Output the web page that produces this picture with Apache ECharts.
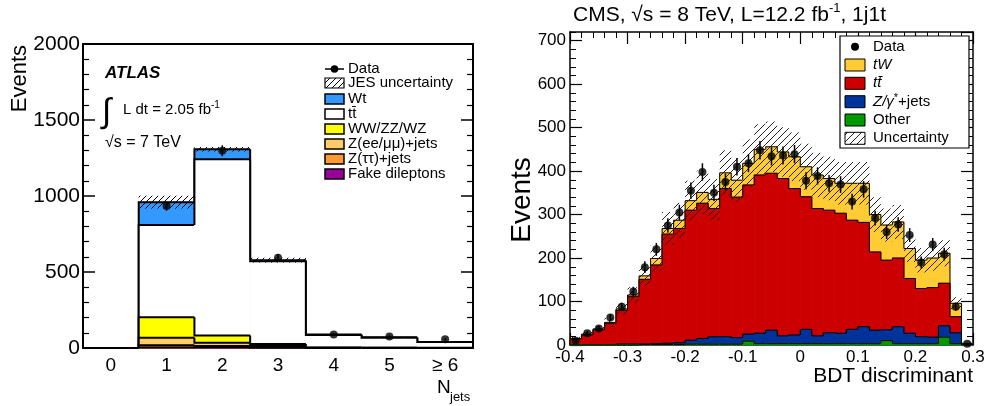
<!DOCTYPE html>
<html>
<head>
<meta charset="utf-8">
<script src="https://cdn.jsdelivr.net/npm/echarts@6/dist/echarts.min.js"></script>
<style>
  html, body { margin: 0; padding: 0; background: #fff; }
  #chart { width: 988px; height: 406px; }
</style>
</head>
<body>
<div id="chart"></div>
<script>
// ---------- ATLAS: dilepton events vs. jet multiplicity ----------
const njetLabels   = ['0', '1', '2', '3', '4', '5', '\u2265 6'];
const atlasFake    = [0, 4, 3, 2, 0, 0, 0];
const atlasZtautau = [0, 14, 10, 4, 0, 0, 0];
const atlasZeemumu = [0, 50, 22, 8, 1, 1, 0];
const atlasDiboson = [0, 134, 48, 12, 2, 1, 1];
const atlasTtbar   = [0, 607, 1158, 545, 82, 66, 38];
const atlasWt      = [0, 150, 66, 7, 3, 2, 1];
const atlasData    = [null, 934, 1298, 594, 88, 75, 57];
const atlasJes     = [0, 42, 15, 15, 4, 4, 3];

// ---------- CMS: BDT discriminant, 1j1t region ----------
const bdtLow = -0.4;
const bdtBinWidth = 0.02;
const bdtOther = [0,0,0,0,0,0,1,1,1,1,2,2,2,2,2,9,3,3,3,3,3,3,3,3,3,3,3,10,3,3,3,3,18,3,1];
const bdtZjets = [1,1,1,1,2,2,1,2,3,4,9,13,17,17,15,16,24,31,18,20,33,18,25,24,33,39,31,25,39,24,16,15,26,25,1];
const bdtTtbar = [13,22,34,49,78,109,149,181,251,263,299,311,295,341,323,343,364,361,362,337,305,293,282,276,251,240,180,160,158,126,111,114,98,37,1];
const bdtTW    = [1,2,2,2,3,4,8,15,13,19,22,25,21,36,39,50,59,61,61,73,69,77,73,69,85,90,86,81,83,69,65,68,69,31,1];
const bdtData  = [10,27,38,63,88,123,179,220,275,305,355,398,350,375,410,418,448,434,436,439,378,389,372,369,330,358,292,260,277,253,190,231,209,88,3];
const bdtUnc   = [4,5,7,10,14,18,24,30,38,40,46,50,47,52,50,55,58,58,57,56,53,51,50,49,49,49,40,38,39,31,28,29,30,14,2];

const FONT = 'Liberation Sans, Arial, Helvetica, sans-serif';

// running sums, bottom layer first
function cumulate(layers) {
  let run = layers[0].map(() => 0);
  return layers.map(arr => { run = run.map((v, i) => v + arr[i]); return run.slice(); });
}

// diagonal "////" hatch tile
function hatchTile(step, color, width) {
  const c = document.createElement('canvas');
  c.width = step; c.height = step;
  const g = c.getContext('2d');
  g.strokeStyle = color; g.lineWidth = width;
  g.beginPath();
  g.moveTo(-1, step + 1); g.lineTo(step + 1, -1);
  g.moveTo(-2, 2); g.lineTo(2, -2);
  g.moveTo(step - 2, step + 2); g.lineTo(step + 2, step - 2);
  g.stroke();
  return c;
}

// filled step histogram from 0 to tops, with a black step outline
function histLayer(xi, yi, lows, highs, tops, color, lw) {
  const n = tops.length;
  const data = tops.map((t, i) => [lows[i], highs[i], t, i > 0 ? tops[i - 1] : 0, i === n - 1 ? 1 : 0]);
  return {
    type: 'custom', xAxisIndex: xi, yAxisIndex: yi, silent: true, data,
    renderItem(params, api) {
      const x0 = api.value(0), x1 = api.value(1), top = api.value(2), prev = api.value(3), last = api.value(4);
      const a = api.coord([x0, top]), b = api.coord([x1, 0]), p = api.coord([x0, prev]);
      const pts = [[a[0], p[1]], [a[0], a[1]], [b[0], a[1]]];
      if (last) pts.push([b[0], b[1]]);
      return { type: 'group', children: [
        { type: 'rect', shape: { x: a[0], y: a[1], width: b[0] - a[0], height: b[1] - a[1] },
          style: { fill: color, stroke: color, lineWidth: 0.8 } },
        { type: 'polyline', shape: { points: pts }, style: { stroke: '#000', lineWidth: lw, fill: null } }
      ] };
    }
  };
}

// hatched uncertainty band around the stack total
function bandLayer(xi, yi, lows, highs, total, half, tile) {
  const data = [];
  total.forEach((t, i) => { if (half[i] > 0) data.push([lows[i], highs[i], t - half[i], t + half[i]]); });
  return {
    type: 'custom', xAxisIndex: xi, yAxisIndex: yi, silent: true, data,
    renderItem(params, api) {
      const a = api.coord([api.value(0), api.value(3)]), b = api.coord([api.value(1), api.value(2)]);
      return { type: 'rect', shape: { x: a[0], y: a[1], width: b[0] - a[0], height: b[1] - a[1] },
               style: { fill: { image: tile, repeat: 'repeat' } } };
    }
  };
}

// data points with Poisson error bars
function dataLayers(xi, yi, centers, vals, size, lw) {
  const pts = [], bars = [];
  vals.forEach((v, i) => {
    if (v == null) return;
    pts.push([centers[i], v]);
    bars.push([centers[i], v - Math.sqrt(v), v + Math.sqrt(v)]);
  });
  return [
    { type: 'custom', xAxisIndex: xi, yAxisIndex: yi, silent: true, data: bars,
      renderItem(params, api) {
        const a = api.coord([api.value(0), api.value(1)]), b = api.coord([api.value(0), api.value(2)]);
        return { type: 'line', shape: { x1: a[0], y1: a[1], x2: b[0], y2: b[1] }, style: { stroke: '#000', lineWidth: lw } };
      } },
    { type: 'scatter', xAxisIndex: xi, yAxisIndex: yi, silent: true, data: pts,
      symbol: 'circle', symbolSize: size, itemStyle: { color: '#000' } }
  ];
}

// ---- left panel geometry in bin units ----
const atlasLows = njetLabels.map((_, i) => i - 0.5);
const atlasHighs = njetLabels.map((_, i) => i + 0.5);
const atlasCenters = njetLabels.map((_, i) => i);
const atlasCum = cumulate([atlasFake, atlasZtautau, atlasZeemumu, atlasDiboson, atlasTtbar, atlasWt]);
const atlasColors = ['#bb00bb', '#ff9933', '#ffcc66', '#ffff00', '#ffffff', '#3399ff'];

// ---- right panel geometry ----
const bdtLows = bdtData.map((_, i) => bdtLow + i * bdtBinWidth);
const bdtHighs = bdtData.map((_, i) => bdtLow + (i + 1) * bdtBinWidth);
const bdtCenters = bdtData.map((_, i) => bdtLow + (i + 0.5) * bdtBinWidth);
const bdtCum = cumulate([bdtOther, bdtZjets, bdtTtbar, bdtTW]);
const bdtColors = ['#009900', '#003399', '#cc0000', '#ffcc33'];

const jesTile = hatchTile(6, '#000', 1);
const uncTile = hatchTile(7, '#222', 1);

const series = [];
// draw the total first, then each lower layer on top of it
for (let k = atlasCum.length - 1; k >= 0; k--) series.push(histLayer(2, 0, atlasLows, atlasHighs, atlasCum[k], atlasColors[k], 2));
series.push(bandLayer(2, 0, atlasLows, atlasHighs, atlasCum[atlasCum.length - 1], atlasJes, jesTile));
series.push(...dataLayers(2, 0, atlasCenters, atlasData, 8, 1.5));

for (let k = bdtCum.length - 1; k >= 0; k--) series.push(histLayer(3, 2, bdtLows, bdtHighs, bdtCum[k], bdtColors[k], 1));
series.push(bandLayer(3, 2, bdtLows, bdtHighs, bdtCum[bdtCum.length - 1], bdtUnc, uncTile));
series.push(...dataLayers(3, 2, bdtCenters, bdtData, 8, 1.5));

const noSplit = { show: false };
const plain = v => String(v);

const option = {
  animation: false,
  backgroundColor: '#fff',
  grid: [
    { left: 83, top: 44, width: 390, height: 304 },
    { left: 570, top: 32, width: 403, height: 313 }
  ],
  xAxis: [
    { type: 'category', gridIndex: 0, position: 'bottom', data: njetLabels,
      axisLine: { onZero: false, lineStyle: { color: '#000', width: 2 } },
      axisTick: { inside: true, length: 6, interval: 0, lineStyle: { color: '#000', width: 1.5 } },
      axisLabel: { color: '#000', fontSize: 19, fontFamily: FONT, margin: 8, interval: 0 },
      splitLine: noSplit },
    { type: 'category', gridIndex: 0, position: 'top', data: njetLabels,
      axisLine: { onZero: false, lineStyle: { color: '#000', width: 2 } },
      axisTick: { inside: true, length: 6, interval: 0, lineStyle: { color: '#000', width: 1.5 } },
      axisLabel: { show: false }, splitLine: noSplit },
    { type: 'value', gridIndex: 0, min: -0.5, max: 6.5, show: false },
    { type: 'value', gridIndex: 1, position: 'bottom', min: -0.4, max: 0.3, interval: 0.1,
      axisLine: { onZero: false, lineStyle: { color: '#000', width: 1.5 } },
      axisTick: { inside: true, length: 12, lineStyle: { color: '#000', width: 1.2 } },
      minorTick: { show: true, splitNumber: 5, length: 6, lineStyle: { color: '#000', width: 1 } },
      axisLabel: { color: '#000', fontSize: 17, fontFamily: FONT, margin: 4,
                   formatter: v => String(Math.round(v * 10) / 10) },
      splitLine: noSplit, minorSplitLine: noSplit },
    { type: 'value', gridIndex: 1, position: 'top', min: -0.4, max: 0.3, interval: 0.1,
      axisLine: { onZero: false, lineStyle: { color: '#000', width: 1.5 } },
      axisTick: { inside: true, length: 12, lineStyle: { color: '#000', width: 1.2 } },
      minorTick: { show: true, splitNumber: 5, length: 6, lineStyle: { color: '#000', width: 1 } },
      axisLabel: { show: false }, splitLine: noSplit, minorSplitLine: noSplit }
  ],
  yAxis: [
    { type: 'value', gridIndex: 0, position: 'left', min: 0, max: 2000, interval: 500,
      axisLine: { show: true, onZero: false, lineStyle: { color: '#000', width: 2 } },
      axisTick: { show: true, inside: true, length: 12, lineStyle: { color: '#000', width: 1.5 } },
      minorTick: { show: true, splitNumber: 5, length: 6, lineStyle: { color: '#000', width: 1.2 } },
      axisLabel: { color: '#000', fontSize: 21, fontFamily: FONT, margin: 3, formatter: plain },
      splitLine: noSplit, minorSplitLine: noSplit },
    { type: 'value', gridIndex: 0, position: 'right', min: 0, max: 2000, interval: 500,
      axisLine: { show: true, onZero: false, lineStyle: { color: '#000', width: 2 } },
      axisTick: { show: true, inside: true, length: 12, lineStyle: { color: '#000', width: 1.5 } },
      minorTick: { show: true, splitNumber: 5, length: 6, lineStyle: { color: '#000', width: 1.2 } },
      axisLabel: { show: false }, splitLine: noSplit, minorSplitLine: noSplit },
    { type: 'value', gridIndex: 1, position: 'left', min: 0, max: 720, interval: 100,
      axisLine: { show: true, onZero: false, lineStyle: { color: '#000', width: 1.5 } },
      axisTick: { show: true, inside: true, length: 12, lineStyle: { color: '#000', width: 1.2 } },
      axisLabel: { color: '#000', fontSize: 17, fontFamily: FONT, margin: 4, showMaxLabel: false, formatter: plain },
      splitLine: noSplit },
    { type: 'value', gridIndex: 1, position: 'left', min: 0, max: 720, interval: 20,
      axisLine: { show: false, onZero: false },
      axisTick: { show: true, inside: true, length: 6, lineStyle: { color: '#000', width: 1 } },
      axisLabel: { show: false }, splitLine: noSplit },
    { type: 'value', gridIndex: 1, position: 'right', min: 0, max: 720, interval: 100,
      axisLine: { show: true, onZero: false, lineStyle: { color: '#000', width: 1.5 } },
      axisTick: { show: true, inside: true, length: 12, lineStyle: { color: '#000', width: 1.2 } },
      axisLabel: { show: false }, splitLine: noSplit },
    { type: 'value', gridIndex: 1, position: 'right', min: 0, max: 720, interval: 20,
      axisLine: { show: false, onZero: false },
      axisTick: { show: true, inside: true, length: 6, lineStyle: { color: '#000', width: 1 } },
      axisLabel: { show: false }, splitLine: noSplit }
  ],
  series: series,
  graphic: []
};

// ---- annotations, axis titles and legends ----
const g = option.graphic;
function txt(x, y, text, size, extra) {
  g.push(Object.assign({ type: 'text', x, y, silent: true, z: 100,
    style: Object.assign({ text, fontSize: size, fontFamily: FONT, fill: '#000', align: 'left', verticalAlign: 'middle' }, (extra && extra.style) || {}) },
    extra && extra.rotation ? { rotation: extra.rotation } : {}));
}
function box(x, y, w, h, fill, lw) {
  g.push({ type: 'rect', silent: true, z: 100, shape: { x, y, width: w, height: h },
           style: { fill, stroke: '#000', lineWidth: lw } });
}

// left panel text
txt(20, 45, 'Events', 22, { rotation: Math.PI / 2, style: { align: 'right' } });
txt(105, 73, 'ATLAS', 17, { style: { fontWeight: 'bold', fontStyle: 'italic' } });
txt(102, 113, '\u222B', 34, {});
txt(123, 110, 'L dt = 2.05 fb{sup|-1}', 15, { style: { lineHeight: 20, rich: { sup: { fontSize: 10, lineHeight: 10, verticalAlign: 'top', fontFamily: FONT } } } });
txt(105, 143, '\u221As = 7 TeV', 16, {});
txt(437, 388, 'N', 19, {});
txt(450, 397, 'jets', 13, {});

// left legend
const atlasLegend = [
  ['Data', 69, 'data'],
  ['JES uncertainty', 83, 'hatch'],
  ['Wt', 99, '#3399ff'],
  ['tt\u0304', 114, '#ffffff'],
  ['WW/ZZ/WZ', 129, '#ffff00'],
  ['Z(ee/\u03BC\u03BC)+jets', 144, '#ffcc66'],
  ['Z(\u03C4\u03C4)+jets', 159, '#ff9933'],
  ['Fake dileptons', 174, '#990099']
];
atlasLegend.forEach(([label, y, kind]) => {
  if (kind === 'data') {
    g.push({ type: 'line', silent: true, z: 100, shape: { x1: 325, y1: y, x2: 344, y2: y }, style: { stroke: '#000', lineWidth: 1.5 } });
    g.push({ type: 'circle', silent: true, z: 101, shape: { cx: 334.5, cy: y, r: 3.8 }, style: { fill: '#000' } });
  } else if (kind === 'hatch') {
    box(325, y - 5, 19, 10, { image: jesTile, repeat: 'repeat' }, 1.2);
  } else {
    box(325, y - 5, 19, 10, kind, 1.5);
  }
  txt(348, y, label, 15, {});
});

// right panel text
txt(573, 15, 'CMS, \u221As = 8 TeV, L=12.2 fb{sup|-1}, 1j1t', 21, { style: { lineHeight: 26, rich: { sup: { fontSize: 13, lineHeight: 13, verticalAlign: 'top', fontFamily: FONT } } } });
txt(522, 200, 'Events', 28, { rotation: Math.PI / 2, style: { align: 'center' } });
txt(973, 376, 'BDT discriminant', 21, { style: { align: 'right' } });

// right legend
box(840, 36, 129, 112, '#ffffff', 1.2);
const cmsLegend = [
  ['Data', 46.7, 'data'],
  ['{it|tW}', 65, '#ffcc33'],
  ['{it|tt\u0304}', 83.3, '#cc0000'],
  ['{it|Z/\u03B3}{sup|*}+jets', 101.7, '#003399'],
  ['Other', 120, '#009900'],
  ['Uncertainty', 138.3, 'hatch']
];
cmsLegend.forEach(([label, y, kind]) => {
  if (kind === 'data') {
    g.push({ type: 'circle', silent: true, z: 101, shape: { cx: 855, cy: y, r: 4 }, style: { fill: '#000' } });
  } else if (kind === 'hatch') {
    box(845, y - 6, 20, 12, { image: uncTile, repeat: 'repeat' }, 1);
  } else {
    box(845, y - 6, 20, 12, kind, 1);
  }
  txt(873, y, label, 15, { style: { lineHeight: 18, rich: {
    it: { fontStyle: 'italic', fontSize: 15, fontFamily: FONT },
    sup: { fontSize: 11, lineHeight: 11, verticalAlign: 'top', fontFamily: FONT } } } });
});

const chart = echarts.init(document.getElementById('chart'), null, { renderer: 'canvas' });
chart.setOption(option);
</script>
</body>
</html>
